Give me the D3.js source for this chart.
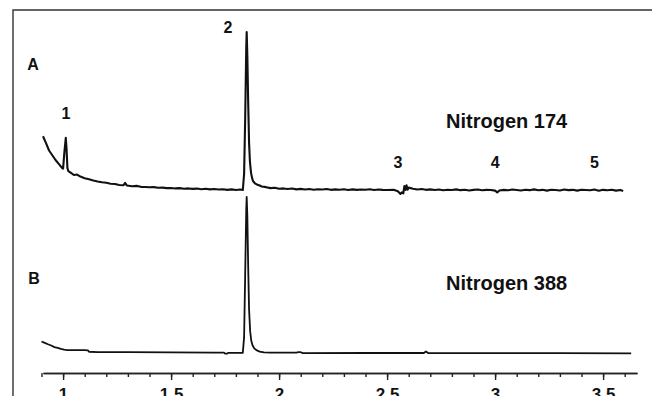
<!DOCTYPE html>
<html><head><meta charset="utf-8">
<script src="https://cdn.jsdelivr.net/npm/d3@7"></script>
<style>
html,body{margin:0;padding:0;background:#fff;}
svg{display:block;font-family:"Liberation Sans",Arial,Helvetica,sans-serif;}
</style></head>
<body>
<svg id="c" width="652" height="396"></svg>
<script>
// ---- data (retention time in min, relative detector response) ----
const traceA_t = [0.907,0.92,0.935,0.95,0.965,0.98,0.995,1.0,1.006,1.0125,1.016,1.02,1.024,1.035,1.05,1.065,1.08,1.1,1.12,1.14,1.16,1.18,1.2,1.22,1.24,1.26,1.28,1.287,1.295,1.32,1.34,1.36,1.38,1.4,1.42,1.44,1.46,1.48,1.5,1.52,1.54,1.56,1.58,1.6,1.62,1.64,1.66,1.68,1.7,1.72,1.74,1.76,1.78,1.8,1.82,1.832,1.838,1.843,1.848,1.85,1.853,1.857,1.861,1.865,1.87,1.875,1.88,1.89,1.9,1.91,1.92,1.94,1.96,1.98,2.0,2.02,2.04,2.06,2.08,2.1,2.12,2.14,2.16,2.18,2.2,2.22,2.24,2.26,2.28,2.3,2.32,2.34,2.36,2.38,2.4,2.42,2.44,2.46,2.48,2.5,2.53,2.55,2.562,2.568,2.575,2.58,2.585,2.59,2.595,2.6,2.62,2.64,2.66,2.68,2.7,2.72,2.74,2.76,2.78,2.8,2.82,2.84,2.86,2.88,2.9,2.92,2.94,2.96,2.98,3.0,3.01,3.02,3.04,3.06,3.08,3.1,3.12,3.14,3.16,3.18,3.2,3.22,3.24,3.26,3.28,3.3,3.32,3.34,3.36,3.38,3.4,3.42,3.44,3.46,3.48,3.5,3.52,3.54,3.56,3.58,3.593];
const traceA_v = [34,30,25,22,19,16.5,14,13.5,24,33,26,14,12,11,9.5,9.8,8.5,7.5,6.8,6,5.4,4.9,4.6,4.0,3.8,3.2,3.0,4.5,2.9,2.4,2.6,2.0,1.9,1.7,1.8,1.4,1.5,1.2,1.3,1.0,1.2,0.8,1.0,0.7,0.9,0.5,0.8,0.4,0.6,0.3,0.5,0.1,0.4,0.0,0.3,0,10,45,90,100,85,55,30,18,11,7.5,5.5,4,3.3,2.8,2.2,1.8,1.2,1.4,0.8,1.0,0.6,0.9,0.4,0.7,0.3,0.6,0.2,0.5,0.3,0.6,0.1,0.4,0.2,0.5,0.0,0.4,0.1,0.3,0.2,0.5,0.0,0.3,0.1,0.0,0.2,-0.8,-2.5,-1.5,-2.2,2.5,0,3,0.2,1.5,0.8,0.3,0.6,0.1,0.4,0.0,0.3,-0.2,0.2,0.0,0.4,-0.1,0.2,-0.3,0.1,0.3,-0.2,0.1,0.0,-0.4,-1.5,-0.3,0.1,-0.2,0.3,0.0,-0.3,0.2,-0.1,0.4,-0.2,0.1,-0.4,0.2,0.0,-0.3,0.3,-0.1,0.1,-0.4,0.2,0.0,-0.2,0.3,-0.5,0.1,-0.2,0.2,-0.4,0.0,-0.6];
const traceB_t = [0.9,0.915,0.93,0.945,0.96,0.975,0.99,1.005,1.02,1.06,1.1,1.115,1.12,1.16,1.3,1.5,1.7,1.745,1.75,1.76,1.765,1.832,1.838,1.843,1.848,1.85,1.853,1.857,1.861,1.866,1.871,1.877,1.885,1.895,1.91,1.93,1.96,2.08,2.09,2.1,2.11,2.4,2.67,2.68,2.69,3.0,3.3,3.63];
const traceB_v = [7.4,6.5,5.6,4.8,3.8,3.3,2.7,2.2,1.9,1.8,1.8,1.7,0.8,0.6,0.5,0.4,0.3,0.3,-0.4,-0.4,0.1,0.1,10,50,92,100,88,55,28,14,8,5,3,1.8,0.9,0.4,0.2,0.2,0.6,0.5,-0.1,0.0,0,1.0,0,-0.1,-0.1,-0.2];
const majorTicks = [1, 1.5, 2, 2.5, 3, 3.5];
const minorTicks = [0.9,1.0,1.1,1.2,1.3,1.4,1.5,1.6,1.7,1.8,1.9,2.0,2.1,2.2,2.3,2.4,2.5,2.6,2.7,2.8,2.9,3.0,3.1,3.2,3.3,3.4,3.5,3.6];
const peakLabels = ["1","2","3","4","5"];
const peakTimes = [1.013, 1.77, 2.55, 3.0, 3.46];
const panelLabels = ["A","B"];
const seriesNames = ["Nitrogen 174","Nitrogen 388"];

// ---- scales ----
const svg = d3.select("#c");
const x = d3.scaleLinear().domain([0.907, 3.657]).range([43, 637]);
const yA = d3.scaleLinear().domain([0, 100]).range([190, 32]);
const yB = d3.scaleLinear().domain([0, 100]).range([353, 197]);

// frame
svg.append("path").attr("d","M13,396V10H652").attr("fill","none").attr("stroke","#333").attr("stroke-width",1.4);

// traces
const lineA = d3.line().x(i=>x(traceA_t[i])).y(i=>yA(traceA_v[i]));
const lineB = d3.line().x(i=>x(traceB_t[i])).y(i=>yB(traceB_v[i]));
svg.append("path").attr("d", lineA(d3.range(traceA_t.length)))
  .attr("fill","none").attr("stroke","#111").attr("stroke-width",2.1).attr("stroke-linejoin","round");
svg.append("path").attr("d", lineB(d3.range(traceB_t.length)))
  .attr("fill","none").attr("stroke","#111").attr("stroke-width",1.8).attr("stroke-linejoin","round");

// axis
const gMinor = svg.append("g").attr("transform","translate(0,373)")
  .call(d3.axisBottom(x).tickValues(minorTicks).tickSize(4).tickSizeOuter(0).tickFormat(""));
const gMajor = svg.append("g").attr("transform","translate(0,373)")
  .call(d3.axisBottom(x).tickValues(majorTicks).tickSize(7).tickSizeOuter(0).tickPadding(8).tickFormat(d3.format("")));
[gMinor,gMajor].forEach(g=>{
  g.selectAll("path,line").attr("stroke","#222").attr("stroke-width",1.4);
});
gMajor.selectAll("text").attr("font-size",17).attr("font-weight","bold").attr("fill","#111")
  .attr("font-family","'Liberation Sans',Arial,sans-serif");

// annotations
const txt = (s,xp,yp,size,anchor)=>svg.append("text").text(s).attr("x",xp).attr("y",yp)
  .attr("font-size",size).attr("font-weight","bold").attr("fill","#111").attr("text-anchor",anchor||"middle");
txt(panelLabels[0], 33, 70, 16);
txt(panelLabels[1], 34, 284, 16);
txt(peakLabels[0], x(peakTimes[0]), 119, 16);
txt(peakLabels[1], 228, 33, 16);
txt(peakLabels[2], x(peakTimes[2]), 168, 16);
txt(peakLabels[3], x(peakTimes[3]), 168, 16);
txt(peakLabels[4], x(peakTimes[4]), 168, 16);
txt(seriesNames[0], 446, 128, 20, "start");
txt(seriesNames[1], 446, 290, 20, "start");
</script>
</body></html>
